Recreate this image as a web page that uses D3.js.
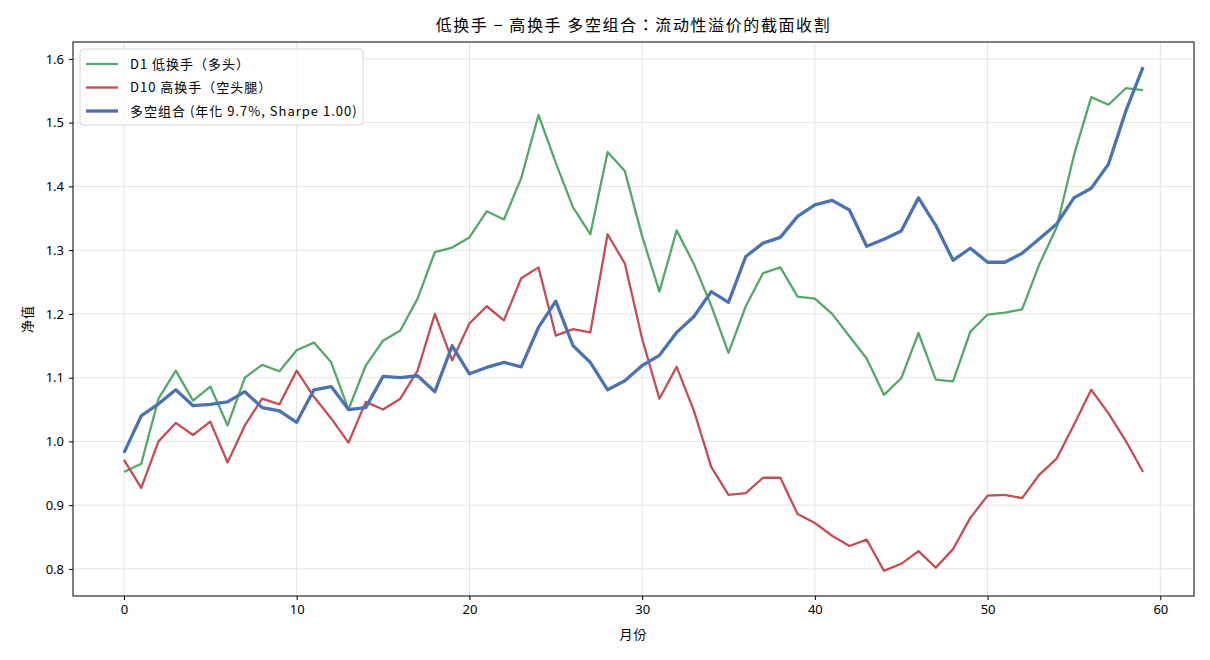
<!DOCTYPE html>
<html>
  <head>
    <meta charset="utf-8" />
    <title>低换手 - 高换手 多空组合</title>
    <script src="https://d3js.org/d3.v7.min.js"></script>
    <style>
      body { margin: 0; background: #fff; }
      text { font-family: "Noto Sans CJK TC", "Noto Sans CJK SC", "DejaVu Sans", sans-serif; }
    </style>
  </head>
  <body>
    <svg id="chart" width="1210" height="660"></svg>

    <script>
      // monthly net values
      var d1Long = [
        0.952, 0.965, 1.067, 1.111, 1.064, 1.086, 1.025, 1.100, 1.120, 1.110,
        1.143, 1.155, 1.124, 1.050, 1.119, 1.158, 1.174, 1.224, 1.297, 1.304,
        1.320, 1.361, 1.348, 1.413, 1.512, 1.437, 1.367, 1.325, 1.454, 1.424,
        1.322, 1.235, 1.331, 1.278, 1.213, 1.139, 1.212, 1.264, 1.273, 1.227,
        1.224, 1.200, 1.165, 1.130, 1.073, 1.099, 1.170, 1.097, 1.094, 1.172,
        1.199, 1.202, 1.207, 1.278, 1.336, 1.449, 1.540, 1.528, 1.554, 1.551
      ];
      var d10Short = [
        0.971, 0.927, 1.000, 1.029, 1.010, 1.031, 0.967, 1.025, 1.067, 1.058,
        1.111, 1.070, 1.036, 0.998, 1.062, 1.050, 1.067, 1.111, 1.200, 1.127,
        1.185, 1.212, 1.190, 1.256, 1.273, 1.166, 1.176, 1.171, 1.325, 1.279,
        1.161, 1.067, 1.117, 1.048, 0.960, 0.916, 0.919, 0.943, 0.943, 0.886,
        0.872, 0.852, 0.836, 0.846, 0.797, 0.808, 0.828, 0.802, 0.831, 0.880,
        0.915, 0.916, 0.911, 0.948, 0.973, 1.026, 1.081, 1.044, 1.001, 0.952
      ];
      var longShort = [
        0.982, 1.040, 1.059, 1.081, 1.056, 1.058, 1.062, 1.078, 1.053, 1.048,
        1.030, 1.081, 1.086, 1.050, 1.053, 1.102, 1.100, 1.103, 1.078, 1.150,
        1.106, 1.116, 1.124, 1.117, 1.179, 1.220, 1.150, 1.124, 1.081, 1.095,
        1.119, 1.135, 1.171, 1.196, 1.235, 1.218, 1.290, 1.311, 1.320, 1.353,
        1.371, 1.378, 1.363, 1.306, 1.317, 1.330, 1.382, 1.339, 1.284, 1.303,
        1.281, 1.281, 1.295, 1.318, 1.341, 1.382, 1.397, 1.435, 1.518, 1.587
      ];

      var seriesNames = ["D1 低换手（多头）", "D10 高换手（空头腿）", "多空组合 (年化 9.7%, Sharpe 1.00)"];
      var xTicks = [0, 10, 20, 30, 40, 50, 60];
      var yTicks = [0.8, 0.9, 1.0, 1.1, 1.2, 1.3, 1.4, 1.5, 1.6];

      var series = [
        { name: seriesNames[0], values: d1Long, color: "#55a868", width: 2.3 },
        { name: seriesNames[1], values: d10Short, color: "#c44e52", width: 2.3 },
        { name: seriesNames[2], values: longShort, color: "#4c72b0", width: 3.3 }
      ];

      var margin = { left: 73, right: 16, top: 42, bottom: 64 };
      var width = 1210, height = 660;
      var svg = d3.select("#chart");

      var n = d1Long.length;
      var xPad = (n - 1) * 0.05;
      var x = d3.scaleLinear()
        .domain([-xPad, n - 1 + xPad])
        .range([margin.left, width - margin.right]);

      var allVals = d1Long.concat(d10Short, longShort);
      var ext = d3.extent(allVals);
      var yPad = (ext[1] - ext[0]) * 0.05;
      var y = d3.scaleLinear()
        .domain([ext[0] - yPad, ext[1] + yPad])
        .range([height - margin.bottom, margin.top]);

      // grid
      var grid = svg.append("g");
      grid.selectAll(".gx").data(xTicks).enter().append("line")
        .attr("x1", function (d) { return x(d); })
        .attr("x2", function (d) { return x(d); })
        .attr("y1", margin.top).attr("y2", height - margin.bottom)
        .style("stroke", "#e3e3e3").style("stroke-width", 1);
      grid.selectAll(".gy").data(yTicks).enter().append("line")
        .attr("y1", function (d) { return y(d); })
        .attr("y2", function (d) { return y(d); })
        .attr("x1", margin.left).attr("x2", width - margin.right)
        .style("stroke", "#e3e3e3").style("stroke-width", 1);

      // lines
      var line = d3.line()
        .x(function (d, i) { return x(i); })
        .y(function (d) { return y(d); });

      svg.append("g").selectAll("path").data(series).enter().append("path")
        .attr("d", function (s) { return line(s.values); })
        .style("fill", "none")
        .style("stroke", function (s) { return s.color; })
        .style("stroke-width", function (s) { return s.width; })
        .style("stroke-linejoin", "round");

      // axes
      var xAxis = svg.append("g")
        .attr("transform", "translate(0," + (height - margin.bottom) + ")")
        .call(d3.axisBottom(x).tickValues(xTicks).tickSize(4).tickPadding(5).tickFormat(d3.format("d")));
      var yAxis = svg.append("g")
        .attr("transform", "translate(" + margin.left + ",0)")
        .call(d3.axisLeft(y).tickValues(yTicks).tickSize(4).tickPadding(5).tickFormat(d3.format(".1f")));
      [xAxis, yAxis].forEach(function (a) {
        a.select(".domain").remove();
        a.selectAll("text").style("font-size", "13px").style("fill", "#000")
          .style("font-family", "'Noto Sans', 'DejaVu Sans', sans-serif");
        a.selectAll("line").style("stroke", "#000");
      });

      // frame
      svg.append("rect")
        .attr("x", margin.left).attr("y", margin.top)
        .attr("width", width - margin.left - margin.right)
        .attr("height", height - margin.top - margin.bottom)
        .style("fill", "none").style("stroke", "#000").style("stroke-width", 1);

      // title + labels
      svg.append("text")
        .attr("x", (margin.left + width - margin.right) / 2).attr("y", 31)
        .attr("text-anchor", "middle").style("font-size", "16px")
        .style("letter-spacing", "1.6px")
        .text("低换手 − 高换手 多空组合：流动性溢价的截面收割");
      svg.append("text")
        .attr("x", (margin.left + width - margin.right) / 2).attr("y", 639)
        .attr("text-anchor", "middle").style("font-size", "13px")
        .style("letter-spacing", "1px")
        .text("月份");
      svg.append("text")
        .attr("transform", "translate(32," + ((margin.top + height - margin.bottom) / 2) + ") rotate(-90)")
        .attr("text-anchor", "middle").style("font-size", "13px")
        .style("letter-spacing", "1px")
        .text("净值");

      // legend
      var lg = svg.append("g").attr("transform", "translate(80,49)");
      lg.append("rect")
        .attr("width", 283).attr("height", 76).attr("rx", 3)
        .style("fill", "#fff").style("fill-opacity", 0.8)
        .style("stroke", "#d6d6d6");
      var item = lg.selectAll(".item").data(series).enter().append("g")
        .attr("transform", function (d, i) { return "translate(0," + (15 + i * 23.5) + ")"; });
      item.append("line")
        .attr("x1", 6).attr("x2", 38)
        .style("stroke", function (d) { return d.color; })
        .style("stroke-width", function (d) { return d.width; });
      item.append("text")
        .attr("x", 50).attr("dy", "0.35em").style("font-size", "13px")
        .style("letter-spacing", "1px")
        .text(function (d) { return d.name; });
    </script>
  </body>
</html>
